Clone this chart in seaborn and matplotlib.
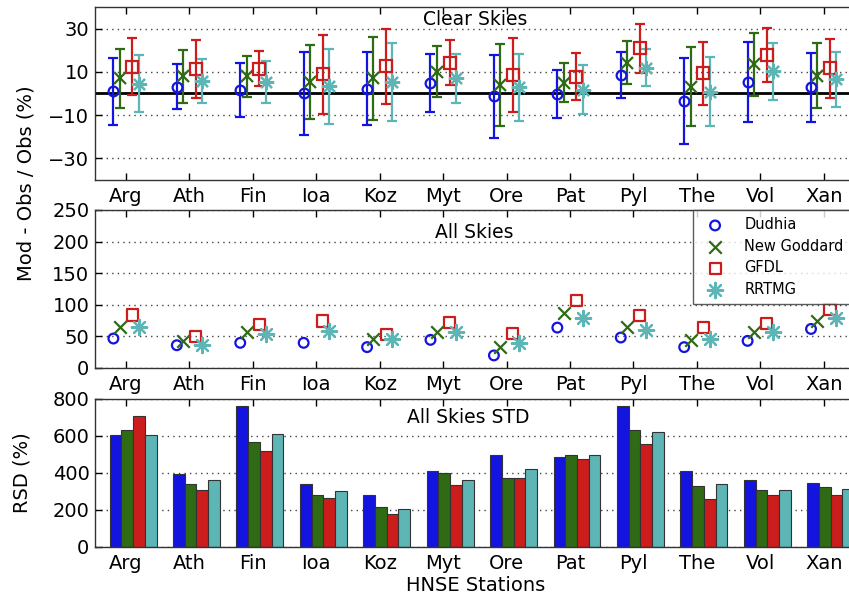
import numpy as np
import pandas as pd
import matplotlib
matplotlib.use('Agg')
import matplotlib.pyplot as plt
import seaborn as sns

# stations and radiation schemes
stations = ['Arg', 'Ath', 'Fin', 'Ioa', 'Koz', 'Myt', 'Ore', 'Pat', 'Pyl', 'The', 'Vol', 'Xan']
models = ['Dudhia', 'New Goddard', 'GFDL', 'RRTMG']

# Clear skies: mean bias (%) and half-width of error bar
clear_dudhia = [1.0, 3.2, 1.5, 0.0, 2.3, 4.9, -1.2, -0.3, 8.6, -3.4, 5.1, 2.8]
clear_dudhia_err = [15.5, 10.5, 12.5, 19.0, 17.0, 13.3, 19.2, 11.0, 10.7, 19.8, 18.5, 15.9]
clear_goddard = [7.1, 8.0, 8.0, 5.4, 7.1, 10.0, 3.8, 4.9, 14.3, 3.1, 13.5, 8.2]
clear_goddard_err = [13.6, 12.2, 9.5, 17.1, 19.2, 11.8, 19.0, 9.0, 10.1, 18.2, 14.5, 15.0]
clear_gfdl = [12.3, 11.5, 11.5, 8.9, 12.5, 14.3, 8.6, 7.8, 20.8, 9.4, 17.8, 11.7]
clear_gfdl_err = [13.2, 13.4, 8.2, 18.2, 17.2, 10.4, 17.2, 11.0, 11.3, 14.5, 12.7, 13.7]
clear_rrtmg = [4.6, 5.8, 5.2, 3.4, 5.2, 7.1, 2.8, 1.8, 12.0, 0.9, 10.2, 6.6]
clear_rrtmg_err = [13.0, 10.0, 9.6, 17.3, 18.0, 11.3, 15.5, 11.5, 8.4, 16.0, 13.3, 12.7]

# All skies bias (%)
all_dudhia = [46.6, 36.0, 39.8, 39.8, 33.0, 44.5, 19.9, 63.9, 48.2, 33.0, 42.9, 61.8]
all_goddard = [65.4, 43.0, 57.6, np.nan, 46.0, 57.6, 32.5, 87.4, 64.4, 44.5, 56.5, 74.3]
all_gfdl = [83.8, 50.3, 69.0, 74.3, 52.4, 72.3, 53.9, 107.3, 82.7, 64.4, 70.7, 93.2]
all_rrtmg = [64.4, 36.6, 53.4, 59.2, 45.5, 57.6, 39.3, 78.5, 60.2, 45.5, 57.6, 79.6]

# All skies RSD (%)
rsd_dudhia = [607, 396, 763, 342, 279, 410, 495, 486, 761, 410, 360, 347]
rsd_goddard = [630, 342, 565, 279, 216, 398, 374, 495, 634, 328, 308, 324]
rsd_gfdl = [706, 310, 520, 263, 176, 337, 371, 473, 554, 257, 279, 279]
rsd_rrtmg = [607, 360, 612, 302, 203, 364, 421, 495, 621, 340, 308, 315]

colors = {'Dudhia': '#1414E0', 'New Goddard': '#2F6B15', 'GFDL': '#CC1C1C', 'RRTMG': '#5DB5B5'}
markers = {'Dudhia': 'o', 'New Goddard': 'x', 'GFDL': 's', 'RRTMG': (8, 2, 0)}
msize = {'Dudhia': 7, 'New Goddard': 9, 'GFDL': 8, 'RRTMG': 11}
offsets = {'Dudhia': -0.2, 'New Goddard': -0.1, 'GFDL': 0.1, 'RRTMG': 0.2}

clear = {'Dudhia': (clear_dudhia, clear_dudhia_err),
         'New Goddard': (clear_goddard, clear_goddard_err),
         'GFDL': (clear_gfdl, clear_gfdl_err),
         'RRTMG': (clear_rrtmg, clear_rrtmg_err)}
allsky = {'Dudhia': all_dudhia, 'New Goddard': all_goddard, 'GFDL': all_gfdl, 'RRTMG': all_rrtmg}
rsd = {'Dudhia': rsd_dudhia, 'New Goddard': rsd_goddard, 'GFDL': rsd_gfdl, 'RRTMG': rsd_rrtmg}

sns.set_theme(style='white')
plt.rcParams['font.family'] = ['DejaVu Sans']
plt.rcParams['font.size'] = 14
plt.rcParams['text.color'] = 'black'
plt.rcParams['xtick.color'] = 'black'
plt.rcParams['ytick.color'] = 'black'
plt.rcParams['axes.labelcolor'] = 'black'

fig = plt.figure(figsize=(8.49, 6.01), dpi=100)
# axes run a little past the right edge like the cropped original
ax1 = fig.add_axes([0.1119, 0.7005, 0.8964, 0.2879])
ax2 = fig.add_axes([0.1119, 0.3877, 0.8964, 0.2629])
ax3 = fig.add_axes([0.1119, 0.0899, 0.8964, 0.2463])

pos = np.arange(len(stations))

# --- Clear skies with error bars
ax1.axhline(0, color='black', lw=2, zorder=1)
for m in models:
    mean, err = clear[m]
    ax1.errorbar(pos + offsets[m], mean, yerr=err, fmt='none', ecolor=colors[m],
                 elinewidth=1.6, capsize=3.5, capthick=1.6, zorder=2)
    ax1.plot(pos + offsets[m], mean, ls='none', marker=markers[m], ms=msize[m],
             mfc='none', mec=colors[m], mew=1.6, zorder=3)
ax1.set_ylim(-40, 40)
ax1.set_yticks([-30, -10, 10, 30])
ax1.text(0.5, 0.925, 'Clear Skies', transform=ax1.transAxes, ha='center', va='center', fontsize=13.5)

# --- All skies markers
for m in models:
    df = pd.DataFrame({'x': pos + offsets[m], 'y': allsky[m]})
    if m in ('Dudhia', 'GFDL'):
        sns.scatterplot(data=df, x='x', y='y', ax=ax2, marker=markers[m], s=msize[m] ** 2,
                        facecolor='none', edgecolor=colors[m], linewidth=1.6, label=m, zorder=3)
    else:
        sns.scatterplot(data=df, x='x', y='y', ax=ax2, marker=markers[m], s=msize[m] ** 2,
                        color=colors[m], linewidth=1.6, label=m, zorder=3)
ax2.set_ylim(0, 250)
ax2.set_yticks([0, 50, 100, 150, 200, 250])
ax2.text(0.498, 0.86, 'All Skies', transform=ax2.transAxes, ha='center', va='center', fontsize=13.5)
leg = ax2.legend(loc='upper left', bbox_to_anchor=(0.786, 1.0), borderaxespad=0,
                 fancybox=False, frameon=True, fontsize=10.5, handletextpad=1.0,
                 labelspacing=0.45, borderpad=0.5, handlelength=2.0)
leg.get_frame().set_edgecolor('#333333')
leg.get_frame().set_linewidth(1.0)

# --- RSD bars
bars = pd.DataFrame({
    'station': np.repeat(stations, len(models)),
    'model': models * len(stations),
    'rsd': [rsd[m][i] for i in range(len(stations)) for m in models],
})
sns.barplot(data=bars, x='station', y='rsd', hue='model', hue_order=models, palette=colors,
            width=0.74, edgecolor='#333333', linewidth=0.8, saturation=1, ax=ax3, legend=False)
ax3.set_ylim(0, 800)
ax3.set_yticks([0, 200, 400, 600, 800])
ax3.text(0.49, 0.878, 'All Skies STD', transform=ax3.transAxes, ha='center', va='center', fontsize=13.5)
ax3.set_xlabel('HNSE Stations', fontsize=14, labelpad=2)
ax3.set_ylabel('RSD (%)', fontsize=14, labelpad=8)

# common axes styling; bar groups sit slightly right of the tick marks in the original
for ax, shift in ((ax1, 0.0), (ax2, 0.0), (ax3, 0.11)):
    ax.set_xlim(-0.49 - shift, 11.51 - shift)
    ax.set_xticks(pos - shift)
    ax.set_xticklabels(stations, fontsize=14)
    ax.tick_params(axis='x', direction='in', top=True, bottom=True, length=5, width=1, pad=5)
    ax.tick_params(axis='y', direction='in', left=True, right=True, length=5, width=1, pad=4, labelsize=14)
    ax.yaxis.grid(True, linestyle=(0, (1, 3)), color='#444444', linewidth=1)
    ax.xaxis.grid(False)
    ax.set_axisbelow(True)
    for sp in ax.spines.values():
        sp.set_color('#333333')
        sp.set_linewidth(1)
    if ax is not ax3:
        ax.set_xlabel('')
        ax.set_ylabel('')

fig.text(0.031, 0.6955, 'Mod - Obs / Obs (%)', rotation=90, ha='center', va='center', fontsize=14)
ax3.yaxis.set_label_coords(-0.084, 0.5)

fig.savefig('out.png', dpi=100)
